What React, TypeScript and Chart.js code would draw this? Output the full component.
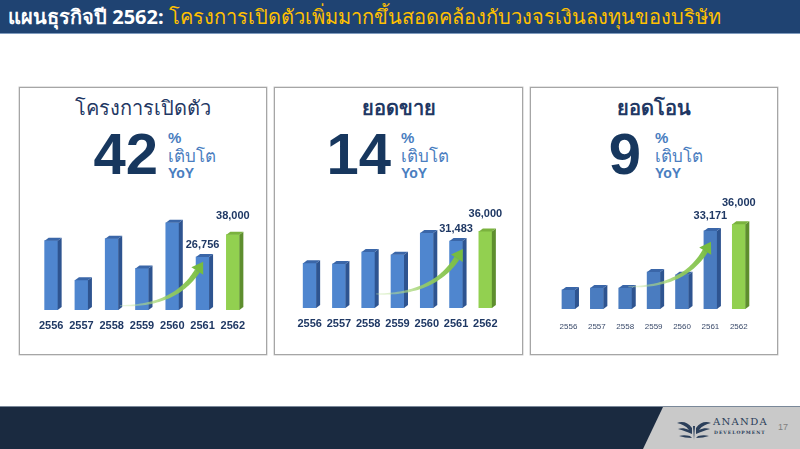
import React, { useEffect, useRef } from "react";
import { Chart, registerables } from "chart.js";

Chart.register(...registerables);

// ---------- data ----------
const years = ["2556", "2557", "2558", "2559", "2560", "2561", "2562"];
const launchValues = [35000, 15000, 36000, 21000, 44000, 26756, 38000];
const salesValues = [21000, 20700, 26300, 25000, 35200, 31483, 36000];
const transferValues = [8100, 8900, 8900, 15700, 14500, 33171, 36000];
const labelledIndexes = [5, 6];
const panelTitles = ["โครงการเปิดตัว", "ยอดขาย", "ยอดโอน"];
const growthNumbers = ["42", "14", "9"];
const headerLead = "แผนธุรกิจปี 2562:";
const headerRest = " โครงการเปิดตัวเพิ่มมากขึ้นสอดคล้องกับวงจรเงินลงทุนของบริษัท";
const pageNumber = "17";

// ---------- styles ----------
const NAVY = "#1F3864";
const BLUE_TEXT = "#4A7EBF";
const THAI_FONT = "'Noto Sans', 'DejaVu Sans', sans-serif";
const NUM_FONT = "'Liberation Sans', Arial, sans-serif";

const fmt = (v: number) => v.toLocaleString("en-US");

const bar3dPlugin = {
  id: "bar3d",
  afterDatasetsDraw(chart: any, _args: any, opts: any) {
    const ctx = chart.ctx;
    const meta = chart.getDatasetMeta(0);
    const ds = chart.data.datasets[0];
    const n = meta.data.length;
    const d = opts.depth;
    const rise = opts.rise;
    ctx.save();
    // side + top faces
    meta.data.forEach((el: any, i: number) => {
      const { x, y, base, width } = el.getProps(["x", "y", "base", "width"], true);
      const l = x - width / 2;
      const r = x + width / 2;
      const hi = i === n - 1;
      ctx.fillStyle = hi ? opts.greenSide : opts.blueSide;
      ctx.beginPath();
      ctx.moveTo(r, y);
      ctx.lineTo(r + d, y - rise);
      ctx.lineTo(r + d, base - rise);
      ctx.lineTo(r, base);
      ctx.closePath();
      ctx.fill();
      ctx.fillStyle = hi ? opts.greenTop : opts.blueTop;
      ctx.beginPath();
      ctx.moveTo(l, y);
      ctx.lineTo(l + d, y - rise);
      ctx.lineTo(r + d, y - rise);
      ctx.lineTo(r, y);
      ctx.closePath();
      ctx.fill();
    });

    // growth arrow
    const xs = chart.scales.x;
    const ys = chart.scales.y;
    const a = opts.arrow;
    const sx = xs.getPixelForValue(a.from[0]);
    const sy = ys.getPixelForValue(a.from[1]);
    const ex = xs.getPixelForValue(a.to[0]);
    const ey = ys.getPixelForValue(a.to[1]);
    const cx = sx + (ex - sx) * 0.68;
    const cy = sy + (ey - sy) * 0.04;
    let tx = ex - cx;
    let ty = ey - cy;
    const tl = Math.hypot(tx, ty);
    tx /= tl;
    ty /= tl;
    const headLen = 11;
    const headHalf = 7;
    const bx = ex - tx * headLen;
    const by = ey - ty * headLen;
    const c2x = cx - tx * headLen * 0.3;
    const c2y = cy - ty * headLen * 0.3;
    const pts: number[][] = [];
    const N = 40;
    for (let k = 0; k <= N; k++) {
      const t = k / N;
      const px = (1 - t) * (1 - t) * sx + 2 * (1 - t) * t * c2x + t * t * bx;
      const py = (1 - t) * (1 - t) * sy + 2 * (1 - t) * t * c2y + t * t * by;
      const dx = 2 * (1 - t) * (c2x - sx) + 2 * t * (bx - c2x);
      const dy = 2 * (1 - t) * (c2y - sy) + 2 * t * (by - c2y);
      const dl = Math.hypot(dx, dy);
      const w = 0.6 + 2.2 * t;
      pts.push([px, py, -dy / dl, dx / dl, w]);
    }
    const grad = ctx.createLinearGradient(sx, sy, ex, ey);
    grad.addColorStop(0, "rgba(200,232,170,0.35)");
    grad.addColorStop(0.5, "rgba(150,205,95,0.9)");
    grad.addColorStop(1, "#77BC3F");
    ctx.fillStyle = grad;
    ctx.beginPath();
    pts.forEach((p, k) => {
      const X = p[0] + p[2] * p[4];
      const Y = p[1] + p[3] * p[4];
      if (k === 0) ctx.moveTo(X, Y);
      else ctx.lineTo(X, Y);
    });
    for (let k = pts.length - 1; k >= 0; k--) {
      const p = pts[k];
      ctx.lineTo(p[0] - p[2] * p[4], p[1] - p[3] * p[4]);
    }
    ctx.closePath();
    ctx.fill();
    ctx.fillStyle = "#77BC3F";
    ctx.beginPath();
    ctx.moveTo(ex, ey);
    ctx.lineTo(bx - ty * headHalf, by + tx * headHalf);
    ctx.lineTo(bx + ty * headHalf, by - tx * headHalf);
    ctx.closePath();
    ctx.fill();

    // value labels
    ctx.fillStyle = NAVY;
    ctx.font = "bold 11px " + NUM_FONT;
    ctx.textAlign = "center";
    ctx.textBaseline = "middle";
    labelledIndexes.forEach((idx, j) => {
      const el = meta.data[idx];
      const { x, y } = el.getProps(["x", "y"], true);
      ctx.fillText(fmt(ds.data[idx]), x, y - rise - opts.labelGap[j]);
    });
    ctx.restore();
  },
};

type PanelCfg = {
  values: number[];
  max: number;
  left: number;
  top: number;
  width: number;
  height: number;
  padL: number;
  padR: number;
  padT: number;
  tickFont: any;
  tickColor: string;
  tickPad: number;
  blue: string;
  arrow: { from: number[]; to: number[] };
  labelGap: number[];
};

function BarChart({ cfg }: { cfg: PanelCfg }) {
  const ref = useRef<HTMLCanvasElement>(null);
  useEffect(() => {
    if (!ref.current) return;
    const colors = cfg.values.map((_, i) => (i === cfg.values.length - 1 ? "#92D050" : cfg.blue));
    const chart = new Chart(ref.current, {
      type: "bar",
      data: {
        labels: years,
        datasets: [
          {
            data: cfg.values,
            backgroundColor: colors,
            borderWidth: 0,
            barThickness: 13,
          },
        ],
      },
      options: {
        animation: false,
        responsive: false,
        devicePixelRatio: 1,
        layout: { padding: { left: cfg.padL, right: cfg.padR, top: cfg.padT, bottom: 0 } },
        plugins: {
          legend: { display: false },
          tooltip: { enabled: false },
          bar3d: {
            depth: 4,
            rise: 3,
            blueSide: "#2E5490",
            blueTop: "#3A66A8",
            greenSide: "#5E8E2E",
            greenTop: "#7AB23E",
            arrow: cfg.arrow,
            labelGap: cfg.labelGap,
          },
        } as any,
        scales: {
          x: {
            grid: { display: false, drawTicks: false },
            border: { display: false },
            ticks: { font: cfg.tickFont, color: cfg.tickColor, padding: cfg.tickPad, maxRotation: 0, autoSkip: false },
            afterFit: (s: any) => {
              s.height = 28;
            },
          },
          y: { display: false, min: 0, max: cfg.max },
        },
      },
      plugins: [bar3dPlugin],
    });
    return () => chart.destroy();
  }, []);
  return (
    <canvas
      ref={ref}
      width={cfg.width}
      height={cfg.height}
      style={{ position: "absolute", left: cfg.left, top: cfg.top, width: cfg.width, height: cfg.height }}
    />
  );
}

const boldTick = { family: NUM_FONT, size: 11, weight: "bold" };
const smallTick = { family: NUM_FONT, size: 8, weight: "normal" };

const panels = [
  {
    box: { left: 19, width: 248 },
    number: { right: 158 },
    side: { left: 168 },
    chart: {
      values: launchValues, max: 55500, left: 28, top: 185, width: 232, height: 153,
      padL: 8, padR: 12, padT: 15, tickFont: boldTick, tickColor: NAVY, tickPad: 9, blue: "#4F86CF",
      arrow: { from: [2.27, 2200], to: [5.02, 24400] }, labelGap: [9, 16],
    },
  },
  {
    box: { left: 274, width: 249 },
    number: { right: 391 },
    side: { left: 401 },
    chart: {
      values: salesValues, max: 50760, left: 287, top: 185, width: 225, height: 151,
      padL: 8, padR: 12, padT: 15, tickFont: boldTick, tickColor: NAVY, tickPad: 9, blue: "#4F86CF",
      arrow: { from: [2.27, 6600], to: [5.23, 27700] }, labelGap: [9, 14],
    },
  },
  {
    box: { left: 530, width: 248 },
    number: { right: 641 },
    side: { left: 655 },
    chart: {
      values: transferValues, max: 46300, left: 546, top: 185, width: 219, height: 152,
      padL: 8, padR: 12, padT: 15, tickFont: smallTick, tickColor: "#3A4A6A", tickPad: 13, blue: "#4A7CC0",
      arrow: { from: [2.11, 9500], to: [5.02, 28600] }, labelGap: [12, 18],
    },
  },
];

function Logo() {
  return (
    <svg width="36" height="26" viewBox="0 0 36 26" style={{ position: "absolute", left: 676, top: 416 }}>
      <path d="M18 24 L17 10 L19 10 Z" fill="#2B3F5A" />
      <path d="M16 12 C12 6 6 5 1 7 C6 8 10 10 13 14 C9 12 5 12 2 13 C7 14 11 16 16 18 Z" fill="#2B3F5A" />
      <path d="M20 12 C24 6 30 5 35 7 C30 8 26 10 23 14 C27 12 31 12 34 13 C29 14 25 16 20 18 Z" fill="#2B3F5A" />
      <path d="M14 20 C10 19 6 19 3 20 C7 21 11 22 16 22 Z" fill="#2B3F5A" />
      <path d="M22 20 C26 19 30 19 33 20 C29 21 25 22 20 22 Z" fill="#2B3F5A" />
    </svg>
  );
}

export default function App() {
  return (
    <div
      style={{
        position: "fixed",
        left: 0,
        top: 0,
        width: 800,
        height: 449,
        background: "#FFFFFF",
        overflow: "hidden",
        fontFamily: THAI_FONT,
      }}
    >
      {/* header */}
      <div
        style={{
          position: "absolute",
          left: 0,
          top: 0,
          width: 800,
          height: 33,
          background: "#1F4372",
          borderBottom: "1px solid #7F9BBE",
        }}
      >
        <div
          style={{
            position: "absolute",
            left: 8,
            top: 0,
            height: 33,
            lineHeight: "33px",
            fontSize: 20,
            fontWeight: "bold",
            whiteSpace: "nowrap",
            color: "#FFFFFF",
          }}
        >
          {headerLead}
          <span style={{ color: "#FFC000", fontWeight: "normal" }}>{headerRest}</span>
        </div>
      </div>

      {/* panels */}
      {panels.map((p, i) => (
        <React.Fragment key={i}>
          <div
            style={{
              position: "absolute",
              left: p.box.left,
              top: 87,
              width: p.box.width - 2,
              height: 266,
              border: "1px solid #A6A6A6",
              boxShadow: "0 0 0 0.5px #C8C8C8",
            }}
          />
          <div
            style={{
              position: "absolute",
              left: p.box.left,
              width: p.box.width,
              top: 94,
              textAlign: "center",
              fontSize: 20,
              lineHeight: "28px",
              color: NAVY,
              fontWeight: i === 0 ? "normal" : "bold",
            }}
          >
            {panelTitles[i]}
          </div>
          <div
            style={{
              position: "absolute",
              left: p.number.right - 120,
              width: 120,
              top: 125,
              textAlign: "right",
              fontFamily: NUM_FONT,
              fontWeight: "bold",
              fontSize: 58,
              lineHeight: "58px",
              color: "#17375E",
            }}
          >
            {growthNumbers[i]}
          </div>
          <div
            style={{
              position: "absolute",
              left: p.side.left,
              top: 129,
              color: BLUE_TEXT,
              whiteSpace: "nowrap",
            }}
          >
            <div style={{ fontFamily: NUM_FONT, fontWeight: "bold", fontSize: 15, lineHeight: "18px" }}>%</div>
            <div style={{ fontSize: 17, lineHeight: "18px" }}>เติบโต</div>
            <div style={{ fontFamily: NUM_FONT, fontWeight: "bold", fontSize: 14, lineHeight: "17px" }}>YoY</div>
          </div>
          <BarChart cfg={p.chart as any} />
        </React.Fragment>
      ))}

      {/* footer */}
      <div style={{ position: "absolute", left: 0, top: 406, width: 800, height: 1, background: "#7A8899" }} />
      <div style={{ position: "absolute", left: 0, top: 407, width: 800, height: 42, background: "#1A2A40" }} />
      <div
        style={{
          position: "absolute",
          left: 640,
          top: 407,
          width: 160,
          height: 42,
          background: "#C9C9C9",
          clipPath: "polygon(23px 0, 160px 0, 160px 42px, 3px 42px)",
        }}
      />
      <Logo />
      <div
        style={{
          position: "absolute",
          left: 713,
          top: 415,
          fontFamily: "'DejaVu Serif', 'Liberation Serif', serif",
          fontSize: 10,
          letterSpacing: 1.3,
          color: "#2B3F5A",
          lineHeight: "13px",
        }}
      >
        ANANDA
      </div>
      <div
        style={{
          position: "absolute",
          left: 714,
          top: 429,
          fontFamily: "'DejaVu Serif', 'Liberation Serif', serif",
          fontSize: 4.5,
          fontWeight: "bold",
          letterSpacing: 1,
          color: "#2B3F5A",
          lineHeight: "7px",
        }}
      >
        DEVELOPMENT
      </div>
      <div
        style={{
          position: "absolute",
          left: 778,
          top: 422,
          fontFamily: NUM_FONT,
          fontSize: 9,
          color: "#7F7F7F",
          lineHeight: "11px",
        }}
      >
        {pageNumber}
      </div>
    </div>
  );
}
